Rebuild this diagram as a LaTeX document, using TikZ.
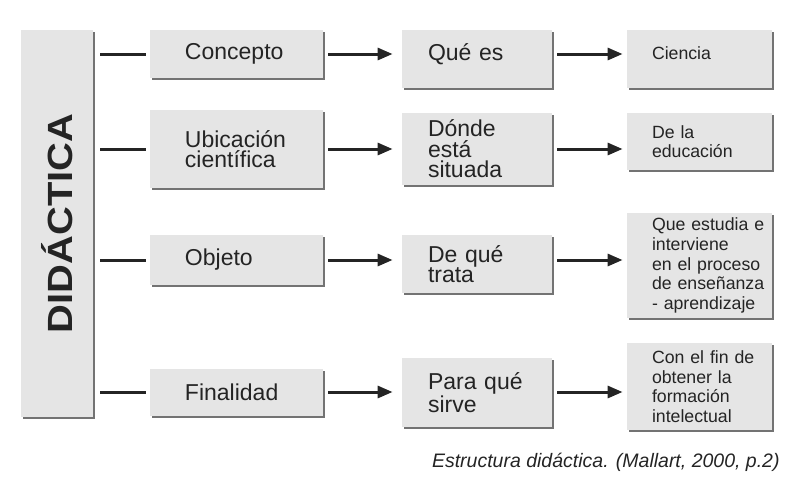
\documentclass[tikz,border=0pt]{standalone}
\usepackage{fontspec}
\setmainfont{Liberation Sans}
\usepackage{tikz}
\usetikzlibrary{arrows.meta, shadows}
\usepackage{xcolor}
\definecolor{boxfill}{RGB}{229,229,229}
\definecolor{boxshade}{RGB}{115,115,115}
\definecolor{ink}{RGB}{36,36,36}

\begin{document}
\begin{tikzpicture}[x=0.5pt, y=-0.5pt,
    panel/.style={rectangle, fill=boxfill, text=ink, inner xsep=2pt, inner ysep=0pt, align=left,
        drop shadow={shadow xshift=1.2pt, shadow yshift=-1.2pt, fill=boxshade, opacity=1}},
    colA/.style={panel, text width=82.5pt, font=\fontsize{11.5}{10.2}\selectfont,
        execute at begin node={\leftskip=15.5pt\relax}},
    colB/.style={panel, text width=71pt, font=\fontsize{11.5}{10.2}\selectfont,
        execute at begin node={\leftskip=11pt\relax}},
    colC/.style={panel, text width=68.5pt, font=\fontsize{8.85}{9.8}\selectfont,
        execute at begin node={\leftskip=10.5pt\relax}},
    link/.style={line width=1.5pt, draw=ink},
    arr/.style={link, -{Triangle[length=7.5pt, width=6pt]}}]
\useasboundingbox (0,0) rectangle (800,500);

% title box on the left
\node[panel, minimum width=36pt, minimum height=193.5pt, font=\fontsize{17.5}{17.5}\selectfont\bfseries] (did) at (57,223.5) {\rotatebox{90}{\scalebox{1.14}[1]{DIDÁCTICA}}};

% first column
\node[colA, minimum height=24pt] (a1) at (236.5,54) {Concepto};
\node[colA, minimum height=39pt] (a2) at (236.5,149) {Ubicación\\científica};
\node[colA, minimum height=25pt] (a3) at (236.5,260) {Objeto};
\node[colA, minimum height=23.5pt] (a4) at (236.5,392) {Finalidad};

% second column
\node[colB, minimum height=29pt, text depth=7pt] (b1) at (477,59) {Qué es};
\node[colB, minimum height=36pt] (b2) at (477,149) {Dónde\\está\\situada};
\node[colB, minimum height=29pt] (b3) at (477,264) {De qué\\trata};
\node[colB, minimum height=34.5pt] (b4) at (477,392.5) {Para qué\\sirve};

% third column
\node[colC, minimum height=29pt, text depth=6pt] (c1) at (699.5,59) {Ciencia};
\node[colC, minimum height=28.5pt] (c2) at (699.5,141.5) {De la\\educación};
\node[colC, minimum height=52.5pt] (c3) at (699.5,265.5) {Que estudia e\\interviene\\en el proceso\\de enseñanza\\- aprendizaje};
\node[colC, minimum height=43.5pt] (c4) at (699.5,386.5) {Con el fin de\\obtener la\\formación\\intelectual};

\node[font=\fontsize{9.75}{11}\selectfont\itshape, text=ink, anchor=base east, inner sep=0pt] (caption) at (780,467) {Estructura didáctica. (Mallart, 2000, p.2)};

\foreach \r in {1,...,4} {
    \draw[link, shorten <=3.5pt, shorten >=2pt] (did.east |- a\r) -- (a\r.west);
    \draw[arr, shorten <=2.5pt, shorten >=4.5pt] (a\r.east) -- (a\r.east -| b\r.west);
    \draw[arr, shorten <=2.5pt, shorten >=2pt] (b\r.east |- a\r) -- (c\r.west |- a\r);
}
\end{tikzpicture}
\end{document}
